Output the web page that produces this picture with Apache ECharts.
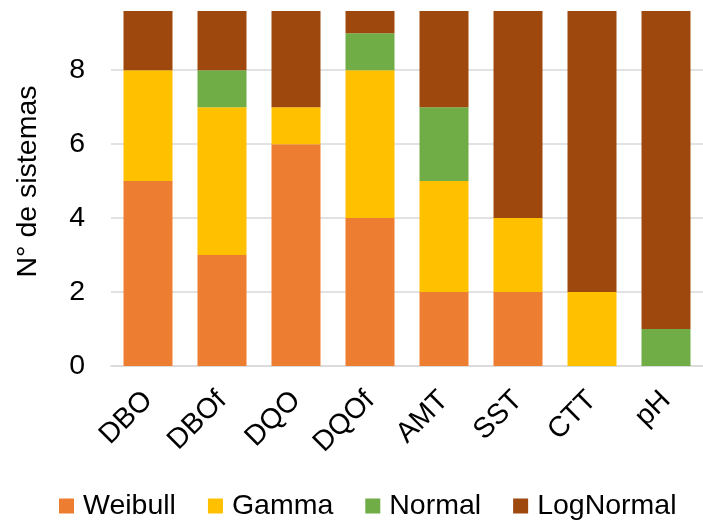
<!DOCTYPE html>
<html><head><meta charset="utf-8">
<script src="https://cdn.jsdelivr.net/npm/echarts@6/dist/echarts.min.js"></script>
<style>html,body{margin:0;padding:0;background:#fff}#c{width:703px;height:520px}</style>
</head><body><div id="c"></div>
<script>
const categories = ['DBO','DBOf','DQO','DQOf','AMT','SST','CTT','pH'];
const weibull   = [5, 3, 6, 4, 2, 2, 0, 0];
const gamma     = [3, 4, 1, 4, 3, 2, 2, 0];
const normal    = [0, 1, 0, 1, 2, 0, 0, 1];
const logNormal = [2, 2, 3, 1, 3, 6, 8, 9];
const yTicks = [0, 2, 4, 6, 8];

const font = 'Liberation Sans, Arial, sans-serif';
const fs = 28.5;
const chart = echarts.init(document.getElementById('c'), null, {renderer:'canvas'});
function s(name, data, color){
  return {name, type:'bar', stack:'t', data, barWidth:49,
    itemStyle:{color}, emphasis:{disabled:true}};
}
chart.setOption({
  animation:false,
  grid:{left:111, top:11, width:608, height:355, containLabel:false},
  legend:{
    left:54, top:485, itemWidth:15, itemHeight:15, itemGap:32, icon:'rect',
    textStyle:{fontSize:fs, fontFamily:font, color:'#000', lineHeight:32, padding:[0,0,0,4]},
    data:['Weibull','Gamma','Normal','LogNormal']
  },
  xAxis:{type:'category', data:categories,
    axisTick:{show:false},
    axisLine:{lineStyle:{color:'#d9d9d9', width:1.5}},
    axisLabel:{rotate:45, fontSize:fs, fontFamily:font, color:'#000', margin:30, interval:0,
      padding:[10,0,0,0]}
  },
  yAxis:{type:'value', min:0, max:9.6, interval:2,
    name:'N° de sistemas', nameLocation:'middle', nameGap:68,
    nameTextStyle:{fontSize:fs, fontFamily:font, color:'#000', padding:[0,0,0,14]},
    axisLabel:{fontSize:fs, fontFamily:font, color:'#000', margin:26, showMaxLabel:false,
      formatter:v=> yTicks.includes(v) ? String(v) : ''},
    splitLine:{showMaxLine:false, lineStyle:{color:'#d9d9d9', width:1.5}},
    axisLine:{show:false}, axisTick:{show:false}
  },
  series:[
    s('Weibull', weibull, '#ED7D31'),
    s('Gamma', gamma, '#FFC000'),
    s('Normal', normal, '#70AD47'),
    s('LogNormal', logNormal, '#9E480E')
  ]
});
</script></body></html>
